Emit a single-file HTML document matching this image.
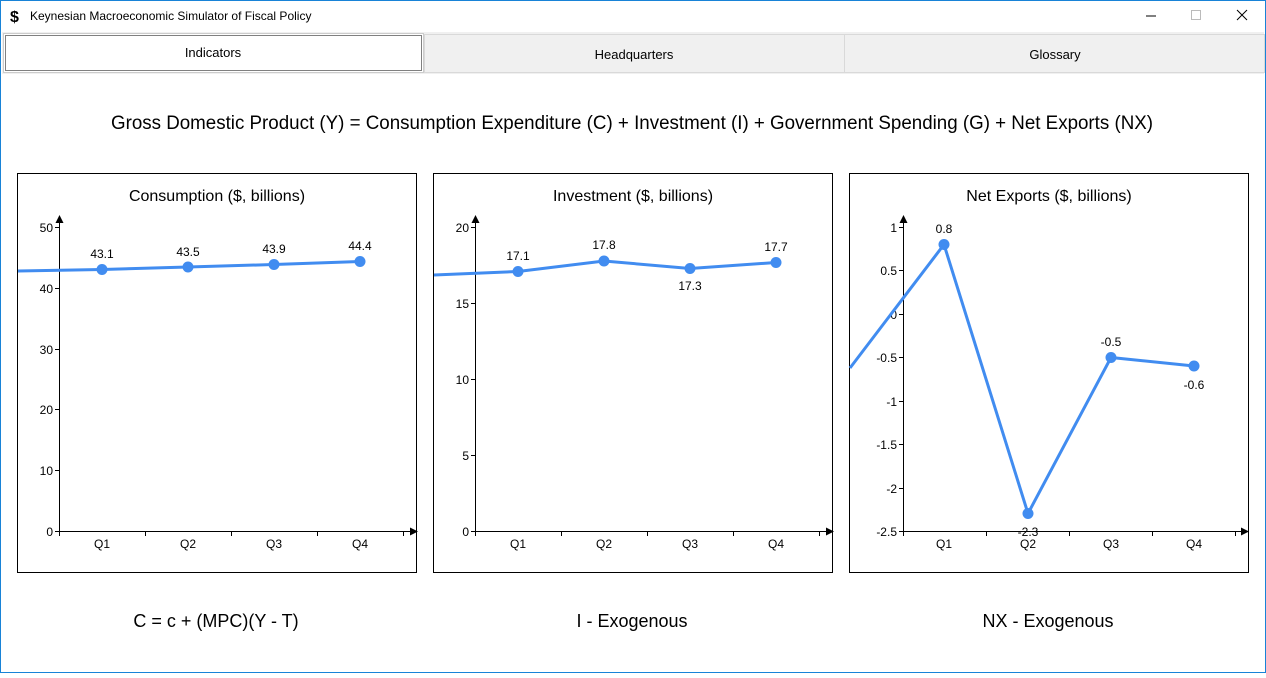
<!DOCTYPE html>
<html><head><meta charset="utf-8"><style>
body{margin:0;width:1266px;height:673px;overflow:hidden;background:#fff;font-family:"Liberation Sans",Arial,sans-serif}
</style></head><body>
<svg width="1266" height="673" xmlns="http://www.w3.org/2000/svg" font-family="Liberation Sans, Arial, sans-serif">
<rect x="0.5" y="0.5" width="1265" height="672" fill="#fff" stroke="#1883d7"/>
<text x="10" y="22" font-size="16" font-weight="bold">$</text>
<text x="30" y="20" font-size="12" fill="#000">Keynesian Macroeconomic Simulator of Fiscal Policy</text>
<line x1="1146" y1="16" x2="1156" y2="16" stroke="#000"/>
<rect x="1191.5" y="10.5" width="9" height="9" fill="none" stroke="#bbb"/>
<path d="M1237 10 L1247 20 M1247 10 L1237 20" stroke="#000"/>
<rect x="2" y="32" width="1262" height="42" fill="#f0f0f0"/>
<rect x="3.5" y="33.5" width="420" height="39" fill="#fff" stroke="#ccc"/>
<rect x="5.5" y="35.5" width="416" height="35" fill="none" stroke="#000" stroke-width="1" stroke-dasharray="1 1" shape-rendering="crispEdges"/>
<rect x="424.5" y="34.5" width="420" height="38" fill="#f0f0f0" stroke="#d9d9d9"/>
<rect x="844.5" y="34.5" width="420" height="38" fill="#f0f0f0" stroke="#d9d9d9"/>
<g font-size="13" text-anchor="middle"><text x="213" y="57">Indicators</text><text x="634" y="59">Headquarters</text><text x="1055" y="59">Glossary</text></g>
<text x="111" y="129" font-size="19" textLength="1042" lengthAdjust="spacingAndGlyphs">Gross Domestic Product (Y) = Consumption Expenditure (C) + Investment (I) + Government Spending (G) + Net Exports (NX)</text>
<g font-size="18" text-anchor="middle"><text x="216" y="627">C = c + (MPC)(Y - T)</text><text x="632" y="627">I - Exogenous</text><text x="1048" y="627">NX - Exogenous</text></g>

<g stroke="#000" fill="none"><rect x="17.5" y="173.5" width="399" height="399"/><rect x="433.5" y="173.5" width="399" height="399"/><rect x="849.5" y="173.5" width="399" height="399"/></g>
<g font-size="16" text-anchor="middle"><text x="217" y="201">Consumption ($, billions)</text><text x="633" y="201">Investment ($, billions)</text><text x="1049" y="201">Net Exports ($, billions)</text></g>

<!-- chart 1 -->
<g stroke="#000" stroke-width="1">
<line x1="59.5" y1="220" x2="59.5" y2="536"/><line x1="55" y1="531.5" x2="412" y2="531.5"/>
<path d="M55 227.5h4M55 288.5h4M55 349.5h4M55 409.5h4M55 470.5h4M145.5 531v5M231.5 531v5M317.5 531v5M403.5 531v5"/>
</g>
<path d="M59.5 215l-4 8h8z M418 531.5l-8 -4v8z" fill="#000"/>
<g font-size="12" text-anchor="end"><text x="53" y="232">50</text><text x="53" y="293">40</text><text x="53" y="354">30</text><text x="53" y="414">20</text><text x="53" y="475">10</text><text x="53" y="536">0</text></g>
<g font-size="12" text-anchor="middle"><text x="102" y="548">Q1</text><text x="188" y="548">Q2</text><text x="274" y="548">Q3</text><text x="360" y="548">Q4</text>
<text x="102" y="258">43.1</text><text x="188" y="256">43.5</text><text x="274" y="253">43.9</text><text x="360" y="250">44.4</text></g>
<polyline points="18,271 102,269.5 188,267 274,264.5 360,261.5" fill="none" stroke="#418cf0" stroke-width="3"/>
<g fill="#418cf0"><circle cx="102" cy="269.5" r="5.5"/><circle cx="188" cy="267" r="5.5"/><circle cx="274" cy="264.5" r="5.5"/><circle cx="360" cy="261.5" r="5.5"/></g>

<!-- chart 2 -->
<g stroke="#000">
<line x1="475.5" y1="220" x2="475.5" y2="536"/><line x1="471" y1="531.5" x2="828" y2="531.5"/>
<path d="M471 227.5h4M471 303.5h4M471 379.5h4M471 455.5h4M561.5 531v5M647.5 531v5M733.5 531v5M819.5 531v5"/>
</g>
<path d="M475.5 215l-4 8h8z M834 531.5l-8 -4v8z" fill="#000"/>
<g font-size="12" text-anchor="end"><text x="469" y="232">20</text><text x="469" y="308">15</text><text x="469" y="384">10</text><text x="469" y="460">5</text><text x="469" y="536">0</text></g>
<g font-size="12" text-anchor="middle"><text x="518" y="548">Q1</text><text x="604" y="548">Q2</text><text x="690" y="548">Q3</text><text x="776" y="548">Q4</text>
<text x="518" y="260">17.1</text><text x="604" y="249">17.8</text><text x="690" y="290">17.3</text><text x="776" y="251">17.7</text></g>
<polyline points="434,275 518,271.5 604,261 690,268.5 776,262.5" fill="none" stroke="#418cf0" stroke-width="3"/>
<g fill="#418cf0"><circle cx="518" cy="271.5" r="5.5"/><circle cx="604" cy="261" r="5.5"/><circle cx="690" cy="268.5" r="5.5"/><circle cx="776" cy="262.5" r="5.5"/></g>

<!-- chart 3 -->
<g stroke="#000">
<line x1="903.5" y1="220" x2="903.5" y2="536"/><line x1="899" y1="531.5" x2="1243" y2="531.5"/>
<path d="M899 227.5h4M899 270.5h4M899 314.5h4M899 357.5h4M899 401.5h4M899 444.5h4M899 488.5h4M986.5 531v5M1069.5 531v5M1152.5 531v5M1235.5 531v5"/>
</g>
<path d="M903.5 215l-4 8h8z M1249 531.5l-8 -4v8z" fill="#000"/>
<g font-size="12" text-anchor="end"><text x="897" y="232">1</text><text x="897" y="275">0.5</text><text x="897" y="319">0</text><text x="897" y="362">-0.5</text><text x="897" y="406">-1</text><text x="897" y="449">-1.5</text><text x="897" y="493">-2</text><text x="897" y="536">-2.5</text></g>
<g font-size="12" text-anchor="middle"><text x="944" y="548">Q1</text><text x="1028" y="548">Q2</text><text x="1111" y="548">Q3</text><text x="1194" y="548">Q4</text>
<text x="944" y="233">0.8</text><text x="1028" y="536">-2.3</text><text x="1111" y="346">-0.5</text><text x="1194" y="389">-0.6</text></g>
<polyline points="850,368 944,244.5 1028,513.5 1111,357.5 1194,366" fill="none" stroke="#418cf0" stroke-width="3"/>
<g fill="#418cf0"><circle cx="944" cy="244.5" r="5.5"/><circle cx="1028" cy="513.5" r="5.5"/><circle cx="1111" cy="357.5" r="5.5"/><circle cx="1194" cy="366" r="5.5"/></g>
</svg>
</body></html>
